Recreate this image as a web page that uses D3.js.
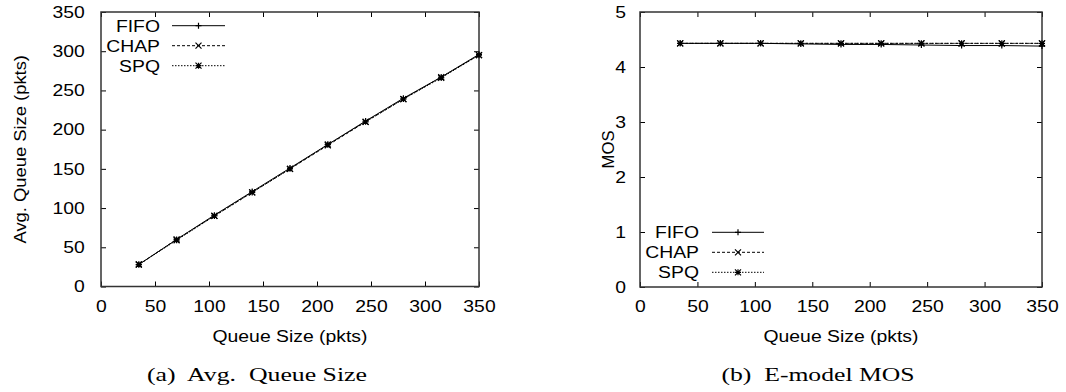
<!DOCTYPE html>
<html>
<head>
<meta charset="utf-8">
<script src="https://cdn.jsdelivr.net/npm/d3@7"></script>
<style>
	body { margin: 0; background: #fff; }
	svg { display: block; }
	.tick text { font-family: "Liberation Sans", Arial, sans-serif; font-size: 16.7px; fill: #000; }
	.tick line { stroke: #000; stroke-width: 1; }
</style>
</head>
<body>
<div id="chart"></div>
<script>
/* values */
const queueSizes = [35, 70, 105, 140, 175, 210, 245, 280, 315, 350];

const avgFifo = [28, 60, 91, 121, 151, 181, 211, 240, 267, 296];
const avgChap = [28, 60, 90, 120, 150, 180, 210, 239, 267, 295];
const avgSpq  = [28, 59, 90, 120, 150, 181, 210, 239, 266, 295];

const mosFifo = [4.43, 4.43, 4.43, 4.42, 4.41, 4.41, 4.40, 4.39, 4.39, 4.38];
const mosChap = [4.43, 4.43, 4.43, 4.43, 4.43, 4.43, 4.43, 4.43, 4.43, 4.43];
const mosSpq  = [4.43, 4.43, 4.43, 4.43, 4.43, 4.43, 4.43, 4.43, 4.43, 4.43];

const seriesNames = ["FIFO", "CHAP", "SPQ"];
const xTicks = [0, 50, 100, 150, 200, 250, 300, 350];
const avgTicks = [0, 50, 100, 150, 200, 250, 300, 350];
const mosTicks = [0, 1, 2, 3, 4, 5];

const W = 1066, H = 392;
const SANS = '"Liberation Sans", Arial, sans-serif';
const STRETCH = 1.16; // glyphs in the picture are wider than tall

const svg = d3.select("#chart").append("svg")
	.attr("width", W)
	.attr("height", H);

const styles = [
	{ dash: null, marker: "plus" },
	{ dash: "3,2", marker: "cross" },
	{ dash: "1.5,1.5", marker: "star" }
];

/* draw a text with the horizontally stretched look */
function label(g, x, y, str, anchor, rotate = 0, stretch = STRETCH) {
	return g.append("text")
		.attr("transform", `translate(${x},${y}) rotate(${rotate}) scale(${stretch},1)`)
		.attr("text-anchor", anchor)
		.attr("font-family", SANS)
		.attr("font-size", 16.7)
		.attr("fill", "#000")
		.text(str);
}

function marker(g, type, cx, cy) {
	const r = 3;
	let d = "";
	if (type === "plus" || type === "star") {
		d += `M${cx - r},${cy}H${cx + r}M${cx},${cy - r}V${cy + r}`;
	}
	if (type === "cross" || type === "star") {
		d += `M${cx - r},${cy - r}L${cx + r},${cy + r}M${cx - r},${cy + r}L${cx + r},${cy - r}`;
	}
	g.append("path").attr("d", d).attr("stroke", "#000").attr("stroke-width", 1.2).attr("fill", "none");
}

function panel(opt) {
	const g = svg.append("g");
	const x = d3.scaleLinear().domain([0, 350]).range([opt.x0, opt.x1]);
	const y = d3.scaleLinear().domain(opt.yDomain).range([opt.y1, opt.y0]);

	/* axes: inward ticks on all four sides */
	const fmt = d3.format("d");
	g.append("g").attr("transform", `translate(0,${opt.y1})`)
		.call(d3.axisBottom(x).tickValues(xTicks).tickFormat(fmt).tickSize(-5).tickPadding(13.5))
		.call(a => a.select(".domain").remove());
	g.append("g").attr("transform", `translate(0,${opt.y0})`)
		.call(d3.axisTop(x).tickValues(xTicks).tickFormat("").tickSize(-5))
		.call(a => a.select(".domain").remove());
	g.append("g").attr("transform", `translate(${opt.x0},0)`)
		.call(d3.axisLeft(y).tickValues(opt.yTicks).tickFormat(fmt).tickSize(-5).tickPadding(opt.yPad))
		.call(a => a.select(".domain").remove());
	g.append("g").attr("transform", `translate(${opt.x1},0)`)
		.call(d3.axisRight(y).tickValues(opt.yTicks).tickFormat("").tickSize(-5))
		.call(a => a.select(".domain").remove());
	g.selectAll(".tick text")
		.attr("font-family", null).attr("font-size", null)
		.attr("transform", `scale(${STRETCH},1)`);

	g.append("rect")
		.attr("x", opt.x0).attr("y", opt.y0)
		.attr("width", opt.x1 - opt.x0).attr("height", opt.y1 - opt.y0)
		.attr("fill", "none").attr("stroke", "#333").attr("stroke-width", 1.5);

	/* series */
	const line = d3.line().x(d => x(d[0])).y(d => y(d[1]));
	opt.series.forEach((vals, i) => {
		const pts = queueSizes.map((q, k) => [q, vals[k]]);
		g.append("path").datum(pts)
			.attr("d", line)
			.attr("fill", "none")
			.attr("stroke", "#000")
			.attr("stroke-width", 1)
			.attr("stroke-dasharray", styles[i].dash);
		pts.forEach(p => marker(g, styles[i].marker, x(p[0]), y(p[1])));
	});

	/* legend */
	seriesNames.forEach((name, i) => {
		const ly = opt.legY + i * 20;
		label(g, opt.legTextX, ly + 6, name, "end");
		g.append("line")
			.attr("x1", opt.legX0).attr("x2", opt.legX1)
			.attr("y1", ly).attr("y2", ly)
			.attr("stroke", "#000").attr("stroke-width", 1)
			.attr("stroke-dasharray", styles[i].dash);
		marker(g, styles[i].marker, (opt.legX0 + opt.legX1) / 2, ly);
	});

	/* axis titles */
	const cx = (opt.x0 + opt.x1) / 2;
	label(g, cx, 342, "Queue Size (pkts)", "middle");
	label(g, opt.yLabelX, (opt.y0 + opt.y1) / 2, opt.yLabel, "middle", -90, opt.yStretch);

	/* caption */
	g.append("text")
		.attr("x", opt.capX).attr("y", 381)
		.attr("text-anchor", "middle")
		.attr("font-family", '"Liberation Serif", "DejaVu Serif", serif')
		.attr("font-size", 19)
		.attr("textLength", opt.capW)
		.attr("lengthAdjust", "spacingAndGlyphs")
		.attr("fill", "#000")
		.style("white-space", "pre")
		.text(opt.caption);
}

panel({
	x0: 101, x1: 479, y0: 12, y1: 286.5,
	yDomain: [0, 350], yTicks: avgTicks, yPad: 14,
	series: [avgFifo, avgChap, avgSpq],
	legY: 25.7, legTextX: 160, legX0: 172, legX1: 225,
	yLabel: "Avg. Queue Size (pkts)", yLabelX: 26, yStretch: 1.1,
	caption: "(a)  Avg.  Queue Size", capX: 257, capW: 220
});

panel({
	x0: 640, x1: 1042, y0: 12, y1: 287,
	yDomain: [0, 5], yTicks: mosTicks, yPad: 12,
	series: [mosFifo, mosChap, mosSpq],
	legY: 232.3, legTextX: 699, legX0: 712, legX1: 764,
	yLabel: "MOS", yLabelX: 614, yStretch: 1.0,
	caption: "(b)  E-model MOS", capX: 818, capW: 193
});
</script>
</body>
</html>
